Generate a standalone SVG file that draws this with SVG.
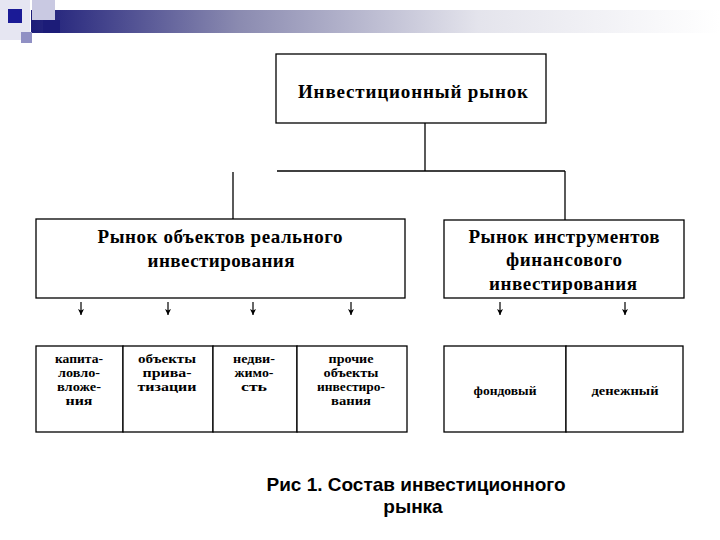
<svg xmlns="http://www.w3.org/2000/svg" width="720" height="540" viewBox="0 0 720 540">
<defs>
<linearGradient id="bar" x1="0" y1="0" x2="1" y2="0">
<stop offset="0" stop-color="#1c1c78"/>
<stop offset="0.3" stop-color="#8a8ab0"/>
<stop offset="0.65" stop-color="#e4e4ec"/>
<stop offset="1" stop-color="#ffffff"/>
</linearGradient>
<marker id="ah" viewBox="0 0 8 8" refX="8" refY="4" markerWidth="6" markerHeight="6" markerUnits="userSpaceOnUse" orient="auto">
<path d="M0,0 L8,4 L0,8 L2,4 Z" fill="#000"/>
</marker>
<style>
.box{fill:#fff;stroke:#000;stroke-width:1.3}
.ln{stroke:#000;stroke-width:1.3;fill:none}
.ar{stroke:#000;stroke-width:1.2;fill:none;marker-end:url(#ah)}
.h{font-family:"Liberation Serif","Times New Roman",serif;font-weight:bold;font-size:19px;fill:#000;text-anchor:middle}
.s{font-family:"Liberation Serif","Times New Roman",serif;font-weight:bold;font-size:13px;fill:#000;text-anchor:middle}
.cap{font-family:"Liberation Sans",Arial,sans-serif;font-weight:bold;font-size:19px;fill:#000;text-anchor:middle}
</style>
</defs>
<rect width="720" height="540" fill="#fff"/>
<g id="decor">
<rect x="0" y="0" width="30" height="40" fill="#e6e6f2"/>
<rect x="31" y="10" width="689" height="23" fill="url(#bar)"/>
<rect x="32" y="0" width="23" height="20" fill="#c9c9e2"/>
<rect x="43" y="20" width="17" height="13" fill="#1c1c78"/>
<rect x="8" y="9" width="14" height="14" fill="#1a1a96"/>
<rect x="21" y="32" width="11" height="11" fill="#9090c4"/>
</g>
<g id="connectors">
<line class="ln" x1="425" y1="123" x2="425" y2="171"/>
<line class="ln" x1="277" y1="171" x2="565" y2="171"/>
<line class="ln" x1="565" y1="171" x2="565" y2="220"/>
<line class="ln" x1="233" y1="172" x2="233" y2="219"/>
<line class="ar" x1="81" y1="302" x2="81" y2="315"/>
<line class="ar" x1="168" y1="302" x2="168" y2="315"/>
<line class="ar" x1="253" y1="302" x2="253" y2="315"/>
<line class="ar" x1="351" y1="302" x2="351" y2="315"/>
<line class="ar" x1="500" y1="302" x2="500" y2="315"/>
<line class="ar" x1="625" y1="302" x2="625" y2="315"/>
</g>
<g id="root">
<rect class="box" x="276" y="54" width="270" height="69"/>
<text class="h" x="413" y="98" textLength="230" lengthAdjust="spacing">Инвестиционный рынок</text>
</g>
<g id="real">
<rect class="box" x="36" y="219" width="369" height="79"/>
<text class="h" x="220" y="243" textLength="245" lengthAdjust="spacing">Рынок объектов реального</text>
<text class="h" x="221" y="267" textLength="147" lengthAdjust="spacing">инвестирования</text>
</g>
<g id="fin">
<rect class="box" x="444" y="220" width="240" height="78"/>
<text class="h" x="564" y="243" textLength="191" lengthAdjust="spacing">Рынок инструментов</text>
<text class="h" x="564" y="266" textLength="116" lengthAdjust="spacing">финансового</text>
<text class="h" x="563" y="290" textLength="148" lengthAdjust="spacing">инвестирования</text>
</g>
<g id="cap1">
<rect class="box" x="36" y="346" width="87" height="86"/>
<text class="s" x="79" y="363" textLength="48" lengthAdjust="spacingAndGlyphs">капита-</text>
<text class="s" x="79" y="377" textLength="42" lengthAdjust="spacingAndGlyphs">ловло-</text>
<text class="s" x="79" y="391" textLength="44" lengthAdjust="spacingAndGlyphs">вложе-</text>
<text class="s" x="79" y="405" textLength="27" lengthAdjust="spacingAndGlyphs">ния</text>
</g>
<g id="priv">
<rect class="box" x="123" y="346" width="90" height="86"/>
<text class="s" x="167" y="363" textLength="58" lengthAdjust="spacingAndGlyphs">объекты</text>
<text class="s" x="167" y="377" textLength="49" lengthAdjust="spacingAndGlyphs">прива-</text>
<text class="s" x="167" y="391" textLength="59" lengthAdjust="spacingAndGlyphs">тизации</text>
</g>
<g id="nedv">
<rect class="box" x="213" y="346" width="84" height="86"/>
<text class="s" x="254" y="363" textLength="42" lengthAdjust="spacingAndGlyphs">недви-</text>
<text class="s" x="254" y="377" textLength="39" lengthAdjust="spacingAndGlyphs">жимо-</text>
<text class="s" x="254" y="391" textLength="26" lengthAdjust="spacingAndGlyphs">сть</text>
</g>
<g id="other">
<rect class="box" x="297" y="346" width="110" height="86"/>
<text class="s" x="351" y="363" textLength="45" lengthAdjust="spacingAndGlyphs">прочие</text>
<text class="s" x="351" y="377" textLength="55" lengthAdjust="spacingAndGlyphs">объекты</text>
<text class="s" x="351" y="391" textLength="68" lengthAdjust="spacingAndGlyphs">инвестиро-</text>
<text class="s" x="351" y="405" textLength="40" lengthAdjust="spacingAndGlyphs">вания</text>
</g>
<g id="fond">
<rect class="box" x="444" y="346" width="122" height="86"/>
<text class="s" x="505" y="395" textLength="63" lengthAdjust="spacingAndGlyphs">фондовый</text>
</g>
<g id="money">
<rect class="box" x="566" y="346" width="117" height="86"/>
<text class="s" x="625" y="395" textLength="67" lengthAdjust="spacingAndGlyphs">денежный</text>
</g>
<g id="caption">
<text class="cap" x="416" y="491">Рис 1. Состав инвестиционного</text>
<text class="cap" x="413" y="513">рынка</text>
</g>
</svg>
